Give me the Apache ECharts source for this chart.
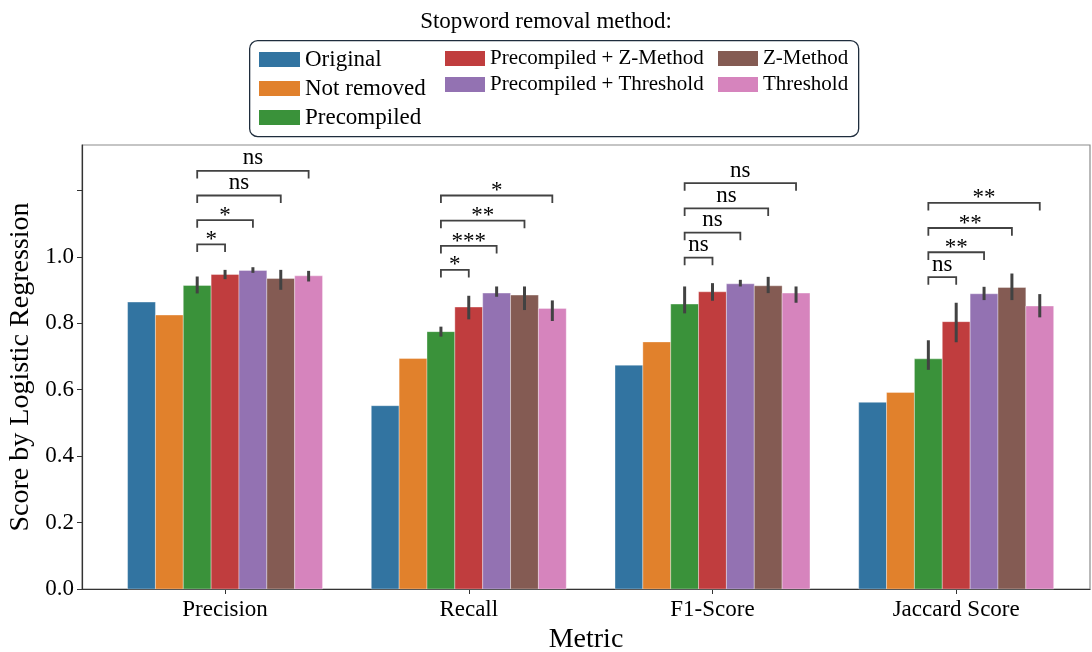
<!DOCTYPE html>
<html>
<head>
<meta charset="utf-8">
<script src="https://cdn.jsdelivr.net/npm/echarts@6/dist/echarts.min.js"></script>
<style>
  html, body { margin: 0; padding: 0; background: #fff; overflow: hidden; }
  #scoreChart { width: 1092px; height: 652px; }
</style>
</head>
<body>
<div id="scoreChart"></div>
<script>
const categories = ['Precision', 'Recall', 'F1-Score', 'Jaccard Score'];
const methods = ['Original', 'Not removed', 'Precompiled', 'Precompiled + Z-Method',
  'Precompiled + Threshold', 'Z-Method', 'Threshold'];
const colors = ['#3274a1', '#e1812c', '#3a923a', '#c03d3e', '#9372b2', '#845b53', '#d684bd'];

// mean score per method, one value per metric
const original = [0.864, 0.552, 0.674, 0.562];
const notRemoved = [0.825, 0.694, 0.744, 0.592];
const precompiled = [0.914, 0.775, 0.858, 0.693];
const precompiledZ = [0.947, 0.849, 0.895, 0.805];
const precompiledThreshold = [0.959, 0.891, 0.919, 0.889];
const zMethod = [0.935, 0.885, 0.913, 0.908];
const threshold = [0.943, 0.845, 0.891, 0.852];
const scores = [original, notRemoved, precompiled, precompiledZ, precompiledThreshold, zMethod, threshold];

// error bar ends (null = no error bar)
const errLow = [
  null, null,
  [0.890, 0.760, 0.830, 0.660],
  [0.933, 0.812, 0.868, 0.743],
  [0.952, 0.880, 0.911, 0.870],
  [0.901, 0.840, 0.891, 0.870],
  [0.926, 0.807, 0.862, 0.818]
];
const errHigh = [
  null, null,
  [0.941, 0.790, 0.911, 0.749],
  [0.961, 0.883, 0.921, 0.862],
  [0.969, 0.911, 0.931, 0.910],
  [0.961, 0.911, 0.940, 0.950],
  [0.958, 0.869, 0.911, 0.888]
];

// significance brackets: Precompiled vs methods 3..6, per metric
const bracketLevels = [
  [1.038, 1.111, 1.185, 1.259],
  [0.961, 1.033, 1.109, 1.185],
  [0.998, 1.073, 1.146, 1.222],
  [0.939, 1.014, 1.087, 1.163]
];
const bracketLabels = [
  ['*', '*', 'ns', 'ns'],
  ['*', '***', '**', '*'],
  ['ns', 'ns', 'ns', 'ns'],
  ['ns', '**', '**', '**']
];

const yTicks = [0, 0.2, 0.4, 0.6, 0.8, 1.0, 1.2];
const yLabels = [0, 0.2, 0.4, 0.6, 0.8, 1.0];

document.addEventListener('DOMContentLoaded', function() {
  const chart = echarts.init(document.getElementById('scoreChart'));
  const font = 'Liberation Serif, Times New Roman, serif';
  const bw = 0.8 / methods.length;
  const legLen = 0.023;

  const barSeries = methods.map(function(name, j) {
    return {
      name: name,
      type: 'custom',
      itemStyle: { color: colors[j] },
      data: scores[j].map(function(v, i) { return [i, v]; }),
      renderItem: function(params, api) {
        const x = api.value(0) + (j - 3) * bw;
        const p0 = api.coord([x - bw / 2, api.value(1)]);
        const p1 = api.coord([x + bw / 2, 0]);
        return {
          type: 'rect',
          shape: { x: p0[0], y: p0[1], width: p1[0] - p0[0], height: p1[1] - p0[1] },
          style: { fill: colors[j], stroke: 'rgba(255,255,255,0.35)', lineWidth: 1 }
        };
      }
    };
  });

  const errData = [];
  for (let j = 0; j < methods.length; j++) {
    if (!errLow[j]) continue;
    for (let i = 0; i < categories.length; i++) {
      errData.push([i, j, errLow[j][i], errHigh[j][i]]);
    }
  }

  const bracketData = [];
  for (let i = 0; i < categories.length; i++) {
    for (let k = 0; k < 4; k++) {
      bracketData.push([i, k, bracketLevels[i][k]]);
    }
  }

  const option = {
    animation: false,
    textStyle: { fontFamily: font },
    grid: {
      left: 82, right: 2, top: 145, bottom: 63,
      outerBoundsMode: 'none',
      show: true, borderColor: '#8c8c8c', borderWidth: 1.2
    },
    graphic: [
      {
        type: 'text', left: 'center', top: 10,
        style: { text: 'Stopword removal method:', font: '23px ' + font, fill: '#000' }
      },
      {
        type: 'rect', left: 249, top: 40,
        shape: { width: 609, height: 96, r: 8 },
        style: { fill: '#fff', stroke: '#1f2d3d', lineWidth: 1.3 },
        z: -1
      }
    ],
    legend: [
      {
        data: methods.slice(0, 3), orient: 'vertical', left: 259, top: 48, padding: 0,
        icon: 'rect', itemWidth: 41, itemHeight: 15, itemGap: 6,
        textStyle: { fontFamily: font, fontSize: 23, lineHeight: 23, color: '#000' }
      },
      {
        data: methods.slice(3, 5), orient: 'vertical', left: 445, top: 48, padding: 0,
        icon: 'rect', itemWidth: 40, itemHeight: 15, itemGap: 5,
        textStyle: { fontFamily: font, fontSize: 21, lineHeight: 21, color: '#000' }
      },
      {
        data: methods.slice(5, 7), orient: 'vertical', left: 718, top: 48, padding: 0,
        icon: 'rect', itemWidth: 40, itemHeight: 15, itemGap: 5,
        textStyle: { fontFamily: font, fontSize: 21, lineHeight: 21, color: '#000' }
      }
    ],
    xAxis: {
      type: 'value',
      min: -0.587,
      max: 3.549,
      name: 'Metric',
      nameLocation: 'middle',
      nameGap: 33,
      nameTextStyle: { fontFamily: font, fontSize: 28, color: '#000' },
      axisLine: { onZero: false, lineStyle: { color: '#333', width: 1.2 } },
      axisTick: { customValues: [0, 1, 2, 3], length: 5, lineStyle: { color: '#333' } },
      axisLabel: {
        customValues: [0, 1, 2, 3],
        margin: 9,
        fontFamily: font, fontSize: 23, color: '#000',
        formatter: function(v) { return categories[Math.round(v)]; }
      },
      splitLine: { show: false }
    },
    yAxis: {
      type: 'value',
      min: 0,
      max: 1.337,
      name: 'Score by Logistic Regression',
      nameLocation: 'middle',
      nameGap: 36,
      nameTextStyle: { fontFamily: font, fontSize: 28, color: '#000' },
      axisLine: { show: true, onZero: false, lineStyle: { color: '#333', width: 1.2 } },
      axisTick: { show: true, customValues: yTicks, length: 5, lineStyle: { color: '#333' } },
      axisLabel: {
        customValues: yLabels,
        margin: 8,
        fontFamily: font, fontSize: 23, color: '#000',
        formatter: function(v) { return v.toFixed(1); }
      },
      splitLine: { show: false }
    },
    series: barSeries.concat([
      {
        name: 'errorbars',
        type: 'custom',
        z: 5,
        data: errData,
        renderItem: function(params, api) {
          const x = api.value(0) + (api.value(1) - 3) * bw;
          const a = api.coord([x, api.value(2)]);
          const b = api.coord([x, api.value(3)]);
          return {
            type: 'line',
            shape: { x1: a[0], y1: a[1], x2: b[0], y2: b[1] },
            style: { stroke: '#424242', lineWidth: 3 }
          };
        }
      },
      {
        name: 'brackets',
        type: 'custom',
        z: 6,
        data: bracketData,
        renderItem: function(params, api) {
          const i = api.value(0);
          const k = api.value(1);
          const level = api.value(2);
          const xa = i + (2 - 3) * bw;
          const xb = i + (k + 3 - 3) * bw;
          const pa = api.coord([xa, level]);
          const pb = api.coord([xb, level]);
          const pa0 = api.coord([xa, level - legLen]);
          const pb0 = api.coord([xb, level - legLen]);
          const label = bracketLabels[i][k];
          const isStar = label.indexOf('*') >= 0;
          return {
            type: 'group',
            children: [
              {
                type: 'polyline',
                shape: { points: [pa0, pa, pb, pb0] },
                style: { stroke: '#424242', lineWidth: 1.8, fill: null }
              },
              {
                type: 'text',
                style: {
                  text: label,
                  x: (pa[0] + pb[0]) / 2,
                  y: pa[1] - 1 + (isStar ? 8 : 0),
                  align: 'center',
                  verticalAlign: 'bottom',
                  font: '23px ' + font,
                  fill: '#000'
                }
              }
            ]
          };
        }
      }
    ])
  };
  chart.setOption(option);
});
</script>
</body>
</html>
